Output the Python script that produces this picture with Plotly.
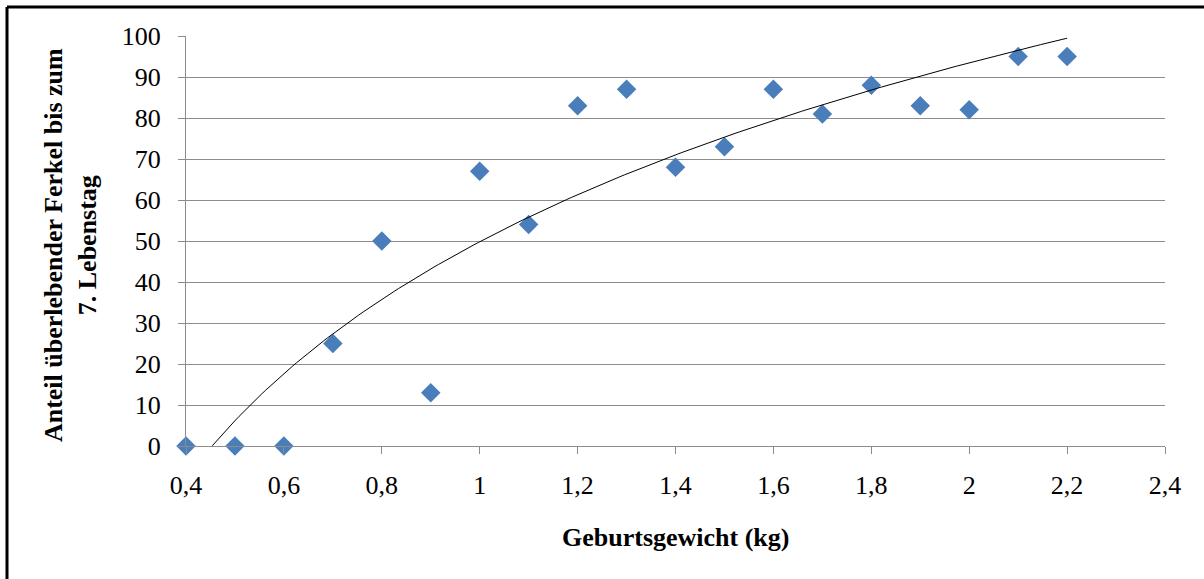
import numpy as np
import plotly.graph_objects as go

# Geburtsgewicht (kg) und Anteil überlebender Ferkel (%)
gewicht = [0.4, 0.5, 0.6, 0.7, 0.8, 0.9, 1.0, 1.1, 1.2, 1.3,
           1.4, 1.5, 1.6, 1.7, 1.8, 1.9, 2.0, 2.1, 2.2]
anteil = [0, 0, 0, 25, 50, 13, 67, 54, 83, 87,
          68, 73, 87, 81, 88, 83, 82, 95, 95]

x_ticks = [0.4, 0.6, 0.8, 1.0, 1.2, 1.4, 1.6, 1.8, 2.0, 2.2, 2.4]
y_ticks = [0, 10, 20, 30, 40, 50, 60, 70, 80, 90, 100]

# logarithmische Trendlinie (least squares auf ln(x)), wie in Excel
a, b = np.polyfit(np.log(gewicht), anteil, 1)
trend_x = np.linspace(min(gewicht), max(gewicht), 200)
trend_y = a * np.log(trend_x) + b

SERIF = "Liberation Serif, Times New Roman, serif"
GRID = "#8c8c8c"
FS = 26

fig = go.Figure()

fig.add_trace(go.Scatter(
    x=gewicht, y=anteil,
    mode="markers",
    marker=dict(symbol="diamond", size=15, color="#4a7ebb"),
    cliponaxis=False,
    showlegend=False,
))

fig.add_trace(go.Scatter(
    x=trend_x, y=trend_y,
    mode="lines",
    line=dict(color="black", width=1),
    showlegend=False,
))

fig.update_layout(
    width=1204, height=579,
    margin=dict(l=186, r=39, t=36, b=133),
    paper_bgcolor="white",
    plot_bgcolor="white",
    separators=",.",
    font=dict(family=SERIF, size=FS, color="black"),
    xaxis=dict(
        range=[0.4, 2.4],
        tickvals=x_ticks,
        showgrid=False,
        zeroline=False,
        showline=True, linecolor=GRID, linewidth=1,
        ticks="outside", ticklen=7, tickcolor=GRID,
        ticklabelstandoff=9,
    ),
    yaxis=dict(
        range=[0, 100],
        tickvals=y_ticks,
        showgrid=True, gridcolor=GRID, gridwidth=1,
        zeroline=False,
        showline=True, linecolor=GRID, linewidth=1,
        ticks="outside", ticklen=7, tickcolor=GRID,
        ticklabelstandoff=12,
    ),
    annotations=[
        dict(
            text="<b>Geburtsgewicht (kg)</b>",
            xref="paper", yref="paper", x=0.5, y=-0.224,
            xanchor="center", yanchor="middle", showarrow=False,
            font=dict(family=SERIF, size=FS),
        ),
        dict(
            text="<b>Anteil überlebender Ferkel bis zum<br>7. Lebenstag</b>",
            xref="paper", yref="paper", x=-0.1185, y=0.49,
            xanchor="center", yanchor="middle", showarrow=False,
            textangle=-90,
            font=dict(family=SERIF, size=FS),
        ),
    ],
    shapes=[
        dict(type="line", xref="paper", yref="paper",
             x0=-179 / 979, x1=1.2, y0=1 + 29 / 410, y1=1 + 29 / 410,
             line=dict(color="black", width=3)),
        dict(type="line", xref="paper", yref="paper",
             x0=-179 / 979, x1=-179 / 979, y0=-0.4, y1=1 + 29 / 410,
             line=dict(color="black", width=3)),
    ],
)

fig.write_html("out.html", config={"displayModeBar": False},
               post_script="document.body.style.margin='0';")
